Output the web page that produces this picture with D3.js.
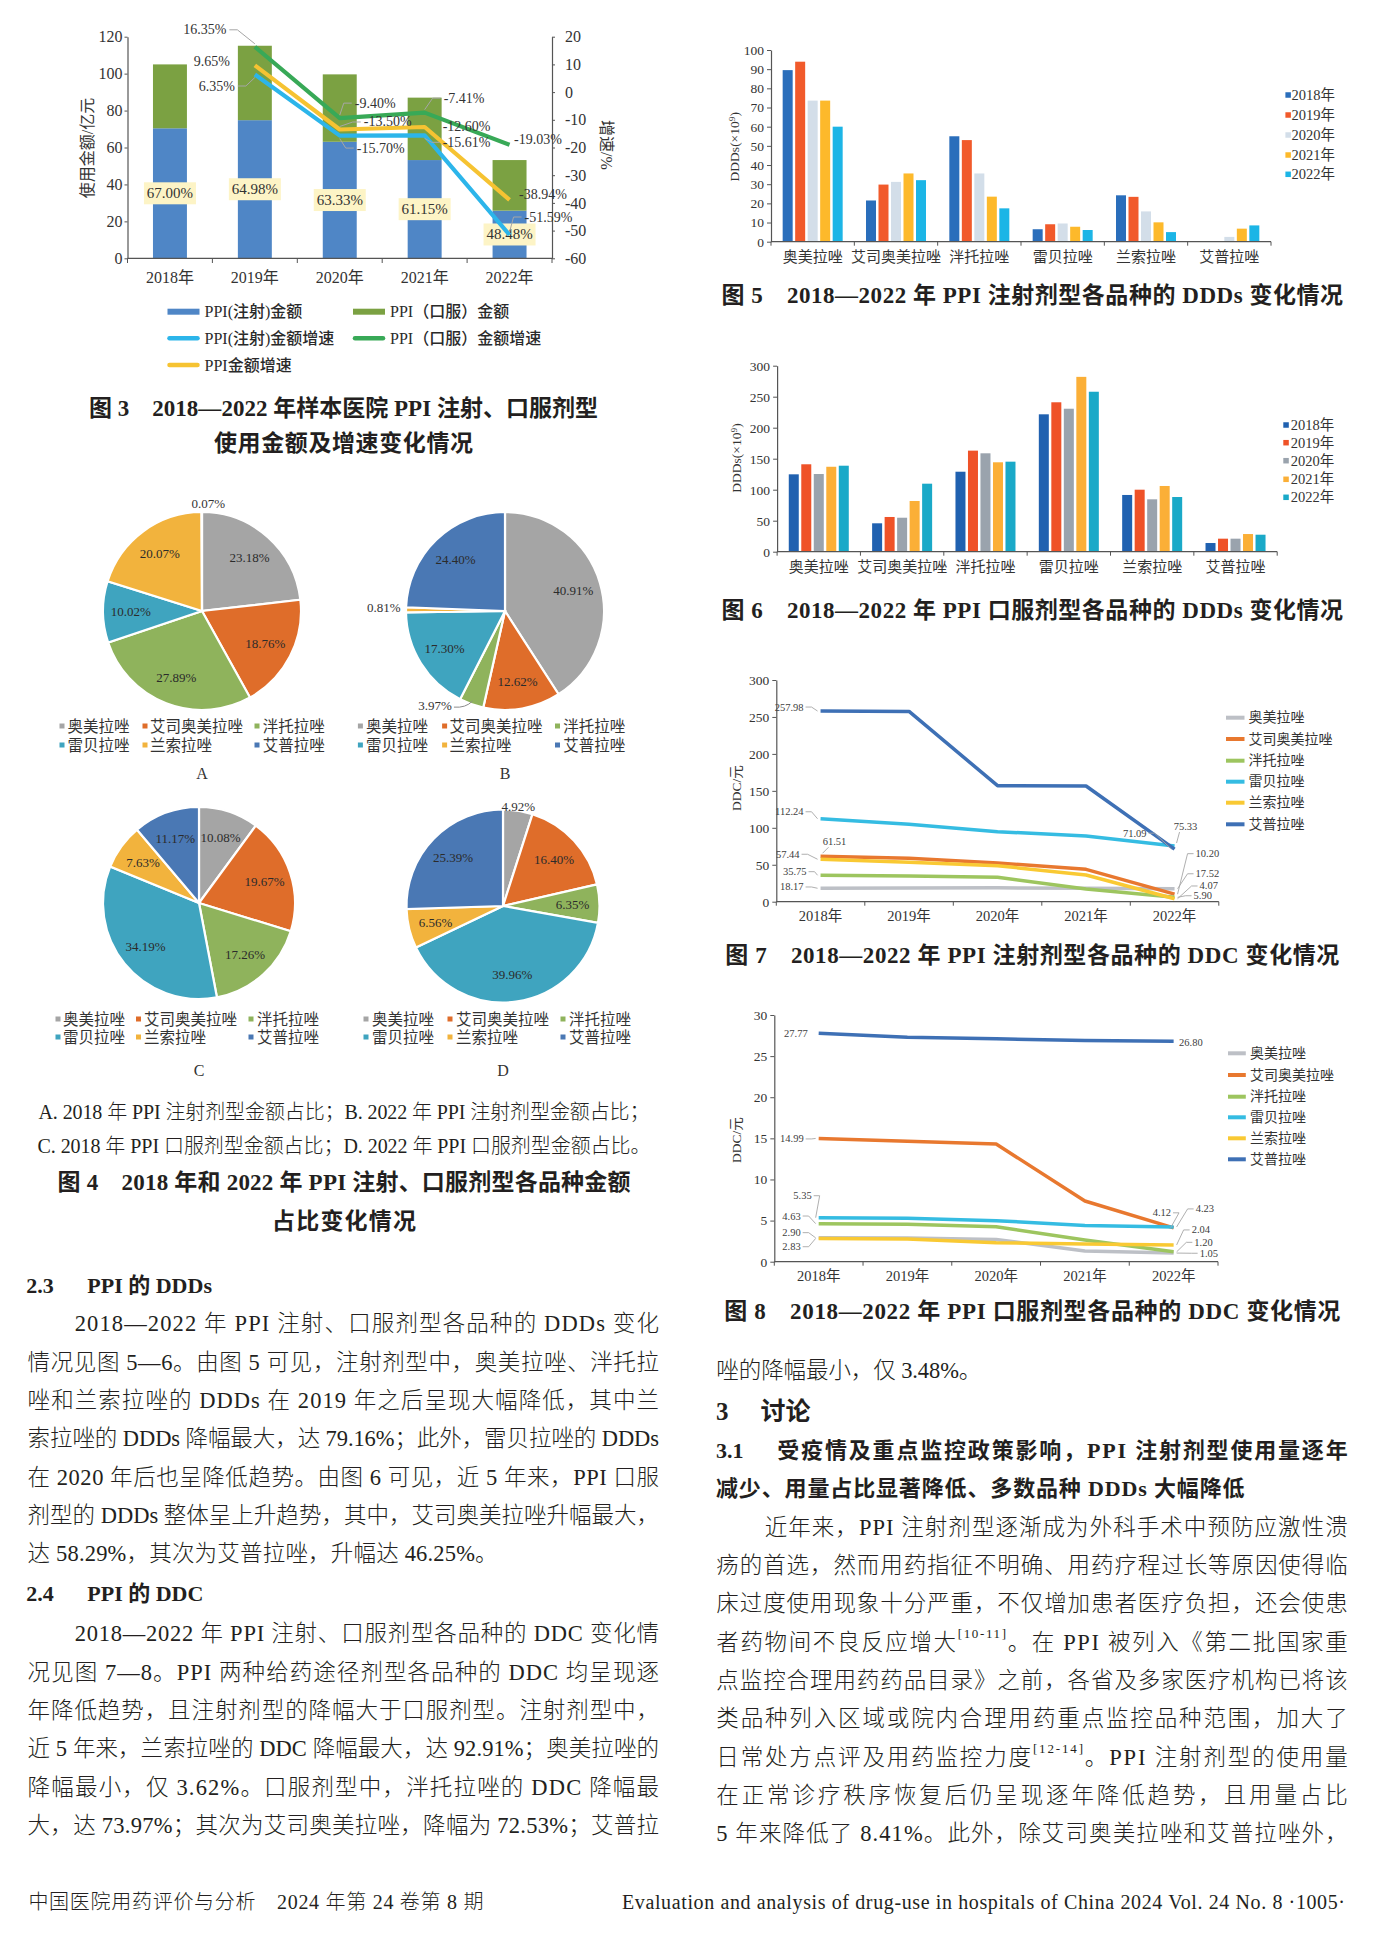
<!DOCTYPE html>
<html lang="zh-CN">
<head>
<meta charset="utf-8">
<title>PPI 使用情况</title>
<script src="https://cdn.jsdelivr.net/npm/d3@7"></script>
<style>
html,body{margin:0;padding:0;background:#fff;}
svg{display:block;}
</style>
</head>
<body>
<svg id="page" width="1375" height="1940" viewBox="0 0 1375 1940"></svg>
<script>
// ================= DATA =================
const years = ["2018年","2019年","2020年","2021年","2022年"];

// Figure 3
const fig3LeftTicks = [0,20,40,60,80,100,120];
const fig3RightTicks = [20,10,0,-10,-20,-30,-40,-50,-60];
const fig3InjAmount = [70.4,74.8,63.1,53.2,25.8];
const fig3OralAmount = [34.6,40.3,36.5,33.8,27.4];
const fig3InjShare = ["67.00%","64.98%","63.33%","61.15%","48.48%"];
const fig3InjGrowth = [null,6.35,-15.70,-15.61,-51.59];
const fig3OralGrowth = [null,16.35,-9.40,-7.41,-19.03];
const fig3TotalGrowth = [null,9.65,-13.50,-12.60,-38.94];
const fig3Legend = ["PPI(注射)金额","PPI（口服）金额","PPI(注射)金额增速","PPI（口服）金额增速","PPI金额增速"];

// Figure 4
const drugs = ["奥美拉唑","艾司奥美拉唑","泮托拉唑","雷贝拉唑","兰索拉唑","艾普拉唑"];
const pieA2018Inj = [23.18,18.76,27.89,10.02,20.07,0.07];
const pieB2022Inj = [40.91,12.62,3.97,17.30,0.81,24.40];
const pieC2018Oral = [10.08,19.67,17.26,34.19,7.63,11.17];
const pieD2022Oral = [4.92,16.40,6.35,39.96,6.56,25.39];

// Figure 5 (DDDs, injection), one array per year, in drug order
const fig5Ticks = [0,10,20,30,40,50,60,70,80,90,100];
const fig5Y2018 = [89.5,21.5,55.0,6.5,24.2,0];
const fig5Y2019 = [93.9,29.8,53.0,9.1,23.4,0];
const fig5Y2020 = [73.6,31.2,35.6,9.5,15.8,2.5];
const fig5Y2021 = [73.6,35.6,23.5,7.8,10.1,6.8];
const fig5Y2022 = [60.0,32.1,17.4,6.1,5.0,8.5];

// Figure 6 (DDDs, oral)
const fig6Ticks = [0,50,100,150,200,250,300];
const fig6Y2018 = [124.8,45.8,129.0,221.6,91.5,14.0];
const fig6Y2019 = [141.0,56.0,163.0,241.0,100.0,21.0];
const fig6Y2020 = [125.3,54.8,158.7,230.6,84.5,21.0];
const fig6Y2021 = [137.0,81.8,144.2,282.0,106.0,28.5];
const fig6Y2022 = [138.7,109.7,145.2,258.0,88.2,27.4];

// Figure 7 (DDC, injection), one array per drug over years
const fig7Ticks = [0,50,100,150,200,250,300];
const fig7Omeprazole = [18.17,18.4,18.8,18.3,17.52];
const fig7Esomeprazole = [61.51,58.7,52.4,43.8,10.20];
const fig7Pantoprazole = [35.75,34.8,33.0,17.2,5.90];
const fig7Rabeprazole = [112.24,104.7,94.8,88.9,75.33];
const fig7Lansoprazole = [57.44,53.3,48.7,36.1,4.07];
const fig7Ilaprazole = [257.98,257.5,157.0,156.6,71.09];

// Figure 8 (DDC, oral)
const fig8Ticks = [0,5,10,15,20,25,30];
const fig8Omeprazole = [2.90,2.88,2.70,1.30,1.05];
const fig8Esomeprazole = [14.99,14.64,14.31,7.38,4.12];
const fig8Pantoprazole = [4.63,4.55,4.26,2.64,1.20];
const fig8Rabeprazole = [5.35,5.27,4.99,4.40,4.23];
const fig8Lansoprazole = [2.83,2.75,2.30,2.15,2.04];
const fig8Ilaprazole = [27.77,27.30,27.10,26.90,26.80];

// Text
const sec23Lines = [
 "2018—2022 年 PPI 注射、口服剂型各品种的 DDDs 变化",
 "情况见图 5—6。由图 5 可见，注射剂型中，奥美拉唑、泮托拉",
 "唑和兰索拉唑的 DDDs 在 2019 年之后呈现大幅降低，其中兰",
 "索拉唑的 DDDs 降幅最大，达 79.16%；此外，雷贝拉唑的 DDDs",
 "在 2020 年后也呈降低趋势。由图 6 可见，近 5 年来，PPI 口服",
 "剂型的 DDDs 整体呈上升趋势，其中，艾司奥美拉唑升幅最大，",
 "达 58.29%，其次为艾普拉唑，升幅达 46.25%。"
];
const sec24Lines = [
 "2018—2022 年 PPI 注射、口服剂型各品种的 DDC 变化情",
 "况见图 7—8。PPI 两种给药途径剂型各品种的 DDC 均呈现逐",
 "年降低趋势，且注射剂型的降幅大于口服剂型。注射剂型中，",
 "近 5 年来，兰索拉唑的 DDC 降幅最大，达 92.91%；奥美拉唑的",
 "降幅最小，仅 3.62%。口服剂型中，泮托拉唑的 DDC 降幅最",
 "大，达 73.97%；其次为艾司奥美拉唑，降幅为 72.53%；艾普拉"
];
const rightCarry = "唑的降幅最小，仅 3.48%。";
const sec31Title = ["受疫情及重点监控政策影响，PPI 注射剂型使用量逐年","减少、用量占比显著降低、多数品种 DDDs 大幅降低"];
const sec31Lines = [
 "近年来，PPI 注射剂型逐渐成为外科手术中预防应激性溃",
 "疡的首选，然而用药指征不明确、用药疗程过长等原因使得临",
 "床过度使用现象十分严重，不仅增加患者医疗负担，还会使患",
 "者药物间不良反应增大[10-11]。在 PPI 被列入《第二批国家重",
 "点监控合理用药药品目录》之前，各省及多家医疗机构已将该",
 "类品种列入区域或院内合理用药重点监控品种范围，加大了",
 "日常处方点评及用药监控力度[12-14]。PPI 注射剂型的使用量",
 "在正常诊疗秩序恢复后仍呈现逐年降低趋势，且用量占比",
 "5 年来降低了 8.41%。此外，除艾司奥美拉唑和艾普拉唑外，"
];

// ================= DRAWING =================
const svg = d3.select("#page");
svg.append("rect").attr("width",1375).attr("height",1940).attr("fill","#fff");
const SERIF = "'Liberation Serif','Noto Sans CJK SC',serif";
const INK = "#231f20";

function label(g, x, y, s, o = {}) {
  const t = g.append("text")
    .attr("x", x).attr("y", y)
    .attr("font-family", o.family || SERIF)
    .attr("font-size", o.size || 14)
    .attr("fill", o.fill || INK)
    .attr("text-anchor", o.anchor || "start")
    .attr("dominant-baseline", "central")
    .text(s);
  if (o.weight) t.attr("font-weight", o.weight);
  if (o.len) t.attr("textLength", o.len).attr("lengthAdjust", "spacing");
  if (o.rotate) t.attr("transform", `rotate(${o.rotate},${x},${y})`);
  return t;
}
function styleAxis(sel, size) {
  sel.attr("font-family", SERIF).attr("font-size", size);
  sel.selectAll("path.domain").attr("stroke", "#555").attr("stroke-width", 1.2);
  sel.selectAll(".tick line").attr("stroke", "#555");
  sel.selectAll(".tick text").attr("fill", "#333");
}

// ---------- Figure 3 ----------
(function(){
  const g = svg.append("g");
  const x = d3.scaleBand().domain(years).range([127.5,552]).paddingInner(0.6).paddingOuter(0.3);
  const yL = d3.scaleLinear().domain([0,120]).range([258.3,36.7]);
  const yR = d3.scaleLinear().domain([-60,20]).range([258.3,36.7]);
  const cx = i => x(years[i]) + x.bandwidth()/2;

  g.selectAll("rect.inj").data(years).join("rect").attr("class","inj")
    .attr("x", d => x(d)).attr("width", x.bandwidth())
    .attr("y", (d,i) => yL(fig3InjAmount[i]))
    .attr("height", (d,i) => yL(0) - yL(fig3InjAmount[i]))
    .attr("fill", "#4f86c6");
  g.selectAll("rect.oral").data(years).join("rect").attr("class","oral")
    .attr("x", d => x(d)).attr("width", x.bandwidth())
    .attr("y", (d,i) => yL(fig3InjAmount[i] + fig3OralAmount[i]))
    .attr("height", (d,i) => yL(fig3InjAmount[i]) - yL(fig3InjAmount[i] + fig3OralAmount[i]))
    .attr("fill", "#7ba142");

  const aL = g.append("g").attr("transform","translate(127.5,0)")
    .call(d3.axisLeft(yL).tickValues(fig3LeftTicks).tickSize(3).tickSizeOuter(0).tickPadding(2));
  styleAxis(aL, 16);
  const aR = g.append("g").attr("transform","translate(552,0)")
    .call(d3.axisRight(yR).tickValues(fig3RightTicks).tickSize(3).tickSizeOuter(0).tickPadding(10).tickFormat(d => String(d)));
  styleAxis(aR, 16);
  const aB = g.append("g").attr("transform","translate(0,258.3)")
    .call(d3.axisBottom(x).tickSize(0).tickSizeOuter(0).tickPadding(13.5));
  styleAxis(aB, 16);
  aB.select("path.domain").attr("d","M127.5,0H552");
  g.selectAll("line.bt").data(d3.range(6)).join("line")
    .attr("x1", k => 127.5 + k * x.step()).attr("x2", k => 127.5 + k * x.step())
    .attr("y1", 258.3).attr("y2", 263).attr("stroke", "#555");

  // share boxes
  years.forEach((d,i) => {
    const yc = yL(fig3InjAmount[i] / 2);
    g.append("rect").attr("x", cx(i) - 26).attr("y", yc - 11).attr("width", 52).attr("height", 22).attr("fill", "#fdf4c6");
    label(g, cx(i), yc, fig3InjShare[i], {size:15, anchor:"middle", fill:"#333"});
  });

  // growth lines
  const lineGen = d3.line().defined(d => d !== null).x((d,i) => cx(i)).y(d => yR(d));
  const series = [
    {vals: fig3InjGrowth, color:"#2cb5ea", off:[null,[-20,11.5,"end"],[17,12.5,"start"],[18,7,"start"],[15,-18,"start"]]},
    {vals: fig3OralGrowth, color:"#38a957", off:[null,[-28.5,-17,"end"],[15,-15,"start"],[19,-14.5,"start"],[4.5,-5,"start"]]},
    {vals: fig3TotalGrowth, color:"#f6c332", off:[null,[-25,-4,"end"],[24,-7.5,"start"],[18,-1,"start"],[9.5,-5,"start"]]}
  ];
  series.forEach(s => {
    g.append("path").attr("d", lineGen(s.vals)).attr("fill","none")
      .attr("stroke", s.color).attr("stroke-width", 4.2).attr("stroke-linejoin","round");
  });
  series.forEach(s => {
    s.vals.forEach((v,i) => {
      if (v === null) return;
      const [dx, dy, anchor] = s.off[i];
      const px = cx(i), py = yR(v), lx = px + dx, ly = py + dy;
      if (Math.abs(dy) > 6) {
        const sx = anchor === "end" ? lx + 3 : lx - 3;
        const mx = anchor === "end" ? sx + 8 : sx - 8;
        g.append("polyline").attr("points", `${sx},${ly} ${mx},${ly} ${px},${py + (dy < 0 ? -3 : 3)}`)
          .attr("fill","none").attr("stroke","#a6a6a6").attr("stroke-width",1);
      }
      label(g, lx, ly, v.toFixed(2) + "%", {size:14, anchor, fill:"#333"});
    });
  });

  label(g, 87, 148, "使用金额/亿元", {size:16, anchor:"middle", rotate:-90, fill:"#333"});
  label(g, 606, 145, "增速/%", {size:16, anchor:"middle", rotate:90, fill:"#333"});

  // legend
  const legCols = [167.5, 353], legRows = [311.7, 338.3, 365];
  const legSpec = [
    {type:"bar", color:"#4f86c6", c:0, r:0},
    {type:"bar", color:"#7ba142", c:1, r:0},
    {type:"line", color:"#2cb5ea", c:0, r:1},
    {type:"line", color:"#38a957", c:1, r:1},
    {type:"line", color:"#f6c332", c:0, r:2}
  ];
  legSpec.forEach((L,k) => {
    const lx = legCols[L.c], ly = legRows[L.r];
    if (L.type === "bar") g.append("rect").attr("x", lx).attr("y", ly - 3).attr("width", 32).attr("height", 6).attr("fill", L.color);
    else g.append("line").attr("x1", lx + 2).attr("x2", lx + 30).attr("y1", ly).attr("y2", ly)
      .attr("stroke", L.color).attr("stroke-width", 4.5).attr("stroke-linecap","round");
    label(g, lx + 37, ly, fig3Legend[k], {size:16, fill:"#2a2a2a", weight:500});
  });

  label(svg, 343.5, 408, "图 3　2018—2022 年样本医院 PPI 注射、口服剂型", {size:23, weight:"bold", anchor:"middle", len:509});
  label(svg, 343.5, 443, "使用金额及增速变化情况", {size:23, weight:"bold", anchor:"middle", len:259});
})();

// ---------- Figure 4 (pies) ----------
const drugColors = ["#a5a5a5","#df6d2a","#8fb35c","#3fa4bf","#f2b33d","#4a78b4"];
(function(){
  const pies = [
    {vals: pieA2018Inj, cx:202, cy:611, r:99, letter:"A", letterY:773, rows:[726,745], mk:[62,145,257], tx:[67.6,150,262.8],
      outside:{5:{rf:1.1, dx:6.5, dy:1, anchor:"middle"}}},
    {vals: pieB2022Inj, cx:505, cy:611, r:99, letter:"B", letterY:773, rows:[726,745], mk:[360.4,444.6,557.5], tx:[366,449.6,563.2],
      outside:{4:{rf:1.055, dx:0, dy:-2.5, anchor:"end"}, 2:{rf:1.0, dx:-19.5, dy:1, anchor:"end", leader:true}}},
    {vals: pieC2018Oral, cx:199, cy:903, r:96, letter:"C", letterY:1070, rows:[1019,1037], mk:[58,138.5,251], tx:[63,144,257], outside:{}},
    {vals: pieD2022Oral, cx:503, cy:906, r:96.5, letter:"D", letterY:1070, rows:[1019,1037], mk:[366,450,563], tx:[372,456,569],
      outside:{0:{rf:1.03, dx:0, dy:-1, anchor:"middle"}}}
  ];
  const pieGen = d3.pie().sort(null).value(d => d);
  pies.forEach(p => {
    const g = svg.append("g").attr("transform", `translate(${p.cx},${p.cy})`);
    const arcs = pieGen(p.vals);
    const arc = d3.arc().innerRadius(0).outerRadius(p.r);
    g.selectAll("path").data(arcs).join("path").attr("d", arc)
      .attr("fill", (d,i) => drugColors[i]).attr("stroke", "#fff").attr("stroke-width", 2.2);
    arcs.forEach((a,i) => {
      const mid = (a.startAngle + a.endAngle) / 2;
      const txt = p.vals[i].toFixed(2) + "%";
      const o = p.outside[i];
      if (o) {
        const rr = p.r * o.rf;
        const ox = rr * Math.sin(mid), oy = -rr * Math.cos(mid);
        const lx = ox + o.dx, ly = oy + o.dy;
        if (o.leader) {
          g.append("path").attr("d", `M${lx + 2},${ly + 2} Q${(lx + ox) / 2 + 4},${ly + 3} ${ox + 1},${oy - 3}`)
            .attr("fill","none").attr("stroke","#8c8c8c").attr("stroke-width",1);
        }
        label(g, lx, ly, txt, {size:13, anchor:o.anchor, fill:"#333"});
      } else {
        const rr = p.r * 0.72;
        label(g, rr * Math.sin(mid), -rr * Math.cos(mid), txt, {size:13, anchor:"middle", fill:"#2b2b2b"});
      }
    });
    // legend: two rows of three
    drugs.forEach((d,i) => {
      const row = Math.floor(i / 3), col = i % 3;
      const yy = p.rows[row];
      svg.append("rect").attr("x", p.mk[col] - 2.5).attr("y", yy - 2.5).attr("width", 5).attr("height", 5).attr("fill", drugColors[i]);
      label(svg, p.tx[col], yy, d, {size:15.5, fill:"#333"});
    });
    label(svg, p.cx, p.letterY, p.letter, {size:16, anchor:"middle", fill:"#333"});
  });
  label(svg, 344, 1112, "A. 2018 年 PPI 注射剂型金额占比；B. 2022 年 PPI 注射剂型金额占比；", {size:20, anchor:"middle", len:611, weight:300});
  label(svg, 344, 1146, "C. 2018 年 PPI 口服剂型金额占比；D. 2022 年 PPI 口服剂型金额占比。", {size:20, anchor:"middle", len:613, weight:300});
  label(svg, 344, 1182, "图 4　2018 年和 2022 年 PPI 注射、口服剂型各品种金额", {size:23, weight:"bold", anchor:"middle", len:573});
  label(svg, 344, 1221, "占比变化情况", {size:23, weight:"bold", anchor:"middle", len:144});
})();

// ---------- Figures 5 & 6 (grouped bars) ----------
function groupedBars(cfg) {
  const g = svg.append("g");
  const x0 = d3.scaleBand().domain(drugs).range(cfg.xr).paddingInner(0.28).paddingOuter(0.14);
  const x1 = d3.scaleBand().domain(years).range([0, x0.bandwidth()]).paddingInner(0.2);
  const y = d3.scaleLinear().domain(cfg.yd).range(cfg.yr);
  cfg.series.forEach((vals,k) => {
    g.append("g").selectAll("rect").data(drugs).join("rect")
      .attr("x", d => x0(d) + x1(years[k])).attr("width", x1.bandwidth())
      .attr("y", (d,i) => y(vals[i])).attr("height", (d,i) => y(0) - y(vals[i]))
      .attr("fill", cfg.colors[k]);
  });
  const ay = g.append("g").attr("transform", `translate(${cfg.xr[0]},0)`)
    .call(d3.axisLeft(y).tickValues(cfg.ticks).tickSize(4).tickSizeOuter(0).tickPadding(3));
  styleAxis(ay, 13.5);
  const ax = g.append("g").attr("transform", `translate(0,${cfg.yr[0]})`)
    .call(d3.axisBottom(x0).tickSize(0).tickSizeOuter(0).tickPadding(10));
  styleAxis(ax, 15);
  ax.select("path.domain").attr("d", `M${cfg.xr[0]},0H${cfg.xr[1]}`);
  g.selectAll("line.bt").data(d3.range(drugs.length + 1)).join("line")
    .attr("x1", k => cfg.xr[0] + k * x0.step()).attr("x2", k => cfg.xr[0] + k * x0.step())
    .attr("y1", cfg.yr[0]).attr("y2", cfg.yr[0] + 4).attr("stroke", "#555");
  label(g, cfg.ylab[0], cfg.ylab[1], "DDDs(×10⁹)", {size:13.5, anchor:"middle", rotate:-90, fill:"#333"});
  years.forEach((yr,k) => {
    const yy = cfg.legRows[k];
    g.append("rect").attr("x", cfg.legMk).attr("y", yy - 2.75).attr("width", 5.5).attr("height", 5.5).attr("fill", cfg.colors[k]);
    label(g, cfg.legTx, yy, yr, {size:14.5, fill:"#333"});
  });
  label(svg, 1032.3, cfg.capY, cfg.caption, {size:23, weight:"bold", anchor:"middle", len:621.5});
}
groupedBars({
  xr:[771,1271], yd:[0,100], yr:[241.7,50], ticks:fig5Ticks,
  series:[fig5Y2018,fig5Y2019,fig5Y2020,fig5Y2021,fig5Y2022],
  colors:["#2a6ebb","#f15a2b","#d3dee9","#fdb92b","#1cb5e6"],
  ylab:[734.3,146.7], legMk:1285.4, legTx:1291.5, legRows:[95,115,135,155,174.3],
  capY:295, caption:"图 5　2018—2022 年 PPI 注射剂型各品种的 DDDs 变化情况"
});
groupedBars({
  xr:[777.1,1277.2], yd:[0,300], yr:[551.7,365.7], ticks:fig6Ticks,
  series:[fig6Y2018,fig6Y2019,fig6Y2020,fig6Y2021,fig6Y2022],
  colors:["#2061b0","#ef5228","#9aa3ad","#fbaf37","#1aa9c8"],
  ylab:[736.3,458], legMk:1283.3, legTx:1290.7, legRows:[425,442.7,460.7,479.3,497.3],
  capY:610, caption:"图 6　2018—2022 年 PPI 口服剂型各品种的 DDDs 变化情况"
});

// ---------- Figures 7 & 8 (lines) ----------
const lineColors = ["#bdc0c6","#e8782f","#9dc55f","#35bce2","#f9c933","#3e70b5"];
function lineChart(cfg) {
  const g = svg.append("g");
  const x = d3.scaleBand().domain(years).range(cfg.xr);
  const cx = i => x(years[i]) + x.bandwidth() / 2;
  const y = d3.scaleLinear().domain(cfg.yd).range(cfg.yr);
  const ay = g.append("g").attr("transform", `translate(${cfg.xr[0]},0)`)
    .call(d3.axisLeft(y).tickValues(cfg.ticks).tickSize(4).tickSizeOuter(0).tickPadding(3));
  styleAxis(ay, 13.5);
  const ax = g.append("g").attr("transform", `translate(0,${cfg.yr[0]})`)
    .call(d3.axisBottom(x).tickSize(0).tickSizeOuter(0).tickPadding(9.5));
  styleAxis(ax, 14.5);
  ax.select("path.domain").attr("d", `M${cfg.xr[0]},0H${cfg.xr[1]}`);
  g.selectAll("line.bt").data(d3.range(years.length + 1)).join("line")
    .attr("x1", k => cfg.xr[0] + k * x.step()).attr("x2", k => cfg.xr[0] + k * x.step())
    .attr("y1", cfg.yr[0]).attr("y2", cfg.yr[0] + 4).attr("stroke", "#555");
  const lineGen = d3.line().x((d,i) => cx(i)).y(d => y(d));
  cfg.series.forEach((vals,k) => {
    g.append("path").attr("d", lineGen(vals)).attr("fill","none")
      .attr("stroke", lineColors[k]).attr("stroke-width", 3.5).attr("stroke-linejoin","round");
  });
  cfg.labels.forEach(([k,i,anchor,dx,dy]) => {
    const v = cfg.series[k][i];
    const px = cx(i), py = y(v), lx = px + dx, ly = py + dy;
    const dist = Math.hypot(dx, dy);
    if (anchor === "end" && dist > 12) {
      g.append("polyline").attr("points", `${lx + 2},${ly} ${lx + 8},${ly} ${px - 3},${py}`)
        .attr("fill","none").attr("stroke","#a6a6a6").attr("stroke-width",0.9);
    } else if (anchor === "start" && dist > 12) {
      g.append("polyline").attr("points", `${lx - 2},${ly} ${lx - 8},${ly} ${px + 3},${py}`)
        .attr("fill","none").attr("stroke","#a6a6a6").attr("stroke-width",0.9);
    } else if (anchor === "middle" && dist > 20) {
      g.append("line").attr("x1", lx - 6).attr("y1", ly + 6).attr("x2", px + 2).attr("y2", py - 3)
        .attr("stroke","#a6a6a6").attr("stroke-width",0.9);
    }
    label(g, lx, ly, v.toFixed(2), {size:10.5, anchor, fill:"#404040"});
  });
  label(g, cfg.ylab[0], cfg.ylab[1], "DDC/元", {size:13.5, anchor:"middle", rotate:-90, fill:"#333"});
  drugs.forEach((d,k) => {
    const yy = cfg.legRows[k];
    g.append("line").attr("x1", cfg.legSw[0]).attr("x2", cfg.legSw[1]).attr("y1", yy).attr("y2", yy)
      .attr("stroke", lineColors[k]).attr("stroke-width", 4);
    label(g, cfg.legTx, yy, d, {size:14, fill:"#333"});
  });
  label(svg, 1032.3, cfg.capY, cfg.caption, {size:23, weight:"bold", anchor:"middle", len:cfg.capLen});
}
lineChart({
  xr:[776.3,1218.8], yd:[0,300], yr:[901.7,680], ticks:fig7Ticks,
  series:[fig7Omeprazole,fig7Esomeprazole,fig7Pantoprazole,fig7Rabeprazole,fig7Lansoprazole,fig7Ilaprazole],
  labels:[[5,0,"end",-17,-4],[3,0,"end",-17,-7],[1,0,"middle",14,-15],[4,0,"end",-21,-5],[2,0,"end",-14,-3.6],[0,0,"end",-17,-1.3],
          [5,4,"end",-28,-16],[3,4,"middle",11,-20],[1,4,"start",21,-40.5],[0,4,"start",21,-15],[4,4,"start",25,-12.7],[2,4,"start",19,-1.6]],
  ylab:[736.3,788], legSw:[1226,1244.5], legTx:1248.6, legRows:[717.7,739,760.7,781.7,802.7,824.3],
  capY:955, capLen:614, caption:"图 7　2018—2022 年 PPI 注射剂型各品种的 DDC 变化情况"
});
lineChart({
  xr:[774.3,1218], yd:[0,30], yr:[1261.7,1015], ticks:fig8Ticks,
  series:[fig8Omeprazole,fig8Esomeprazole,fig8Pantoprazole,fig8Rabeprazole,fig8Lansoprazole,fig8Ilaprazole],
  labels:[[5,0,"end",-11,0],[1,0,"end",-15,0.5],[3,0,"end",-7,-22],[2,0,"end",-18,-7.6],[0,0,"end",-18,-5.2],[4,0,"end",-18,8.3],
          [5,4,"start",5.4,1.6],[1,4,"end",-2.6,-15],[3,4,"start",22,-18],[4,4,"start",18,-15],[2,4,"start",20.7,-9.5],[0,4,"start",26,0.2]],
  ylab:[736,1140], legSw:[1228,1245.8], legTx:1249.9, legRows:[1053.3,1075,1096.7,1117.3,1138.3,1159.3],
  capY:1311.7, capLen:616, caption:"图 8　2018—2022 年 PPI 口服剂型各品种的 DDC 变化情况"
});

// ---------- Body text ----------
const BODY = 22.5;
function bodyLine(x, yc, w, s, o = {}) {
  const size = o.size || BODY;
  const t = svg.append("text").attr("x", x).attr("y", yc)
    .attr("font-family", SERIF).attr("font-size", size).attr("fill", INK)
    .attr("font-weight", o.weight || 300)
    .attr("dominant-baseline", "central");
  const parts = s.split(/(\[[^\]]+\])/).filter(p => p.length);
  let raised = false;
  parts.forEach(p => {
    if (/^\[.*\]$/.test(p)) {
      t.append("tspan").attr("font-size", 13).attr("dy", -9).text(p);
      raised = true;
    } else {
      const ts = t.append("tspan").text(p);
      if (raised) { ts.attr("dy", 9); raised = false; }
    }
  });
  if (w) t.attr("textLength", w).attr("lengthAdjust", "spacing");
  return t;
}
const LH = 38.33;
// Left column
label(svg, 26.3, 1285, "2.3", {size:22, weight:"bold"});
label(svg, 87.3, 1285, "PPI 的 DDDs", {size:22, weight:"bold"});
sec23Lines.forEach((s,i) => {
  const yc = 1323.3 + i * LH;
  if (i === 0) bodyLine(74.7, yc, 584.3, s);
  else if (i === sec23Lines.length - 1) bodyLine(27.6, yc, 470, s);
  else bodyLine(27.6, yc, 631.4, s);
});
label(svg, 26.3, 1593.3, "2.4", {size:22, weight:"bold"});
label(svg, 87.3, 1593.3, "PPI 的 DDC", {size:22, weight:"bold"});
sec24Lines.forEach((s,i) => {
  const yc = 1633.3 + i * LH;
  if (i === 0) bodyLine(74.7, yc, 584.3, s);
  else bodyLine(27.6, yc, 631.4, s);
});
// Right column
bodyLine(716.3, 1370, 265, rightCarry);
label(svg, 716, 1411.7, "3", {size:25, weight:"bold"});
label(svg, 760.5, 1411.7, "讨论", {size:25, weight:"bold"});
label(svg, 716, 1450, "3.1", {size:22, weight:"bold"});
label(svg, 777.3, 1450, sec31Title[0], {size:22, weight:"bold", len:570.4});
label(svg, 716, 1488, sec31Title[1], {size:22, weight:"bold", len:528.6});
sec31Lines.forEach((s,i) => {
  const yc = 1526.7 + i * LH;
  if (i === 0) bodyLine(764.7, yc, 583, s);
  else bodyLine(716.3, yc, 631.4, s);
});

// Footer
label(svg, 28.4, 1901.7, "中国医院用药评价与分析　2024 年第 24 卷第 8 期", {size:20, len:455, weight:300});
label(svg, 1345, 1901.7, "Evaluation and analysis of drug-use in hospitals of China 2024 Vol. 24 No. 8 ·1005·", {size:20, anchor:"end", len:723});
</script>
</body>
</html>
